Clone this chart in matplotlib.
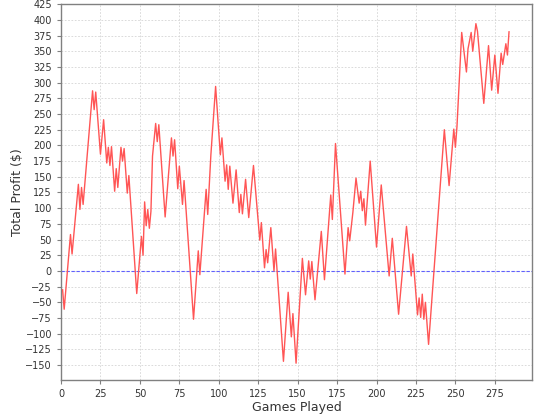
import matplotlib
matplotlib.use("Agg")
import matplotlib.pyplot as plt
from matplotlib.ticker import MultipleLocator

# Sommets de la courbe (partie, profit cumulé)
games = [1, 2, 6, 7, 11, 12, 13, 14, 20, 21, 22, 25, 27, 29, 30, 31, 32, 34, 35, 36,
         38, 39, 40, 42, 43, 48, 51, 52, 53, 54, 55, 56, 57, 58, 60, 61, 62, 66, 70, 71,
         72, 74, 75, 77, 78, 84, 87, 88, 92, 93, 95, 98, 101, 102, 104, 105, 106, 107, 109, 111,
         113, 114, 115, 117, 119, 122, 126, 127, 129, 130, 131, 133, 135, 136, 141, 144, 146, 147, 149, 153,
         155, 157, 158, 159, 161, 165, 167, 171, 172, 174, 180, 182, 183, 185, 187, 189, 190, 191, 192, 193,
         196, 200, 203, 208, 210, 214, 219, 222, 223, 226, 227, 228, 229, 230, 231, 233, 243, 246, 249, 250,
         251, 254, 257, 258, 260, 261, 263, 264, 268, 271, 273, 275, 277, 279, 280, 282, 283, 284]
profit = [-30, -61, 58, 27, 138, 98, 133, 106, 287, 257, 285, 186, 241, 172, 197, 168, 198, 127, 163, 133,
          197, 175, 195, 124, 152, -36, 55, 25, 110, 72, 98, 68, 95, 183, 235, 206, 233, 86, 212, 183,
          209, 131, 167, 106, 144, -77, 32, -6, 130, 90, 185, 294, 185, 212, 143, 169, 130, 167, 108, 161,
          93, 122, 91, 146, 85, 168, 49, 77, 5, 34, 13, 69, 0, 35, -144, -34, -105, -68, -147, 20,
          -38, 16, -13, 15, -46, 63, -14, 121, 82, 203, -5, 69, 48, 93, 148, 108, 127, 96, 115, 73,
          175, 38, 137, -8, 52, -69, 71, -8, 27, -70, -43, -74, -37, -77, -50, -117, 225, 136, 226, 197,
          230, 380, 317, 354, 380, 350, 394, 382, 267, 359, 288, 344, 283, 347, 329, 362, 344, 381]

fig = plt.figure(figsize=(5.4, 4.2), dpi=100)
ax = fig.add_axes([0.113, 0.0964, 0.872, 0.8936])

ax.plot(games, profit, color='#ff5555', linewidth=1.0, zorder=3)

ax.set_xlim(0, 298.5)
ax.set_ylim(-173, 425)
ax.set_xticks(range(0, 276, 25))
ax.set_yticks(range(-150, 426, 25))

ax.grid(True, color='#d4d4d4', linewidth=0.6, linestyle=(0, (2, 2)))
ax.set_axisbelow(True)
# la ligne zéro passe par-dessus la grille
ax.axhline(0, color='#6060ff', linewidth=0.8, linestyle=(0, (3, 1.5)), zorder=2.5)

for s in ax.spines.values():
    s.set_color('#808080')
    s.set_linewidth(1.0)
ax.tick_params(axis='both', labelsize=7, colors='#808080', length=3, width=0.8, labelcolor='#333333')

ax.set_xlabel('Games Played', fontsize=9, color='#333333', labelpad=2)
ax.set_ylabel('Total Profit ($)', fontsize=9, color='#333333', labelpad=1)

fig.savefig('out.png', dpi=100)
